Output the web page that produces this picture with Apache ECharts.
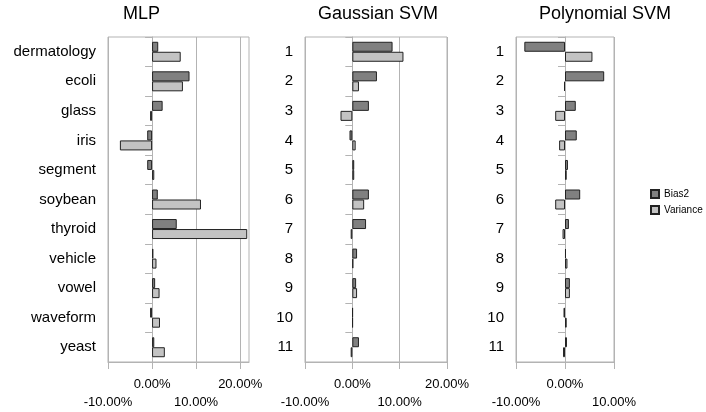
<!DOCTYPE html>
<html>
<head>
<meta charset="utf-8">
<script src="https://cdn.jsdelivr.net/npm/echarts@6/dist/echarts.min.js"></script>
<style>html,body{margin:0;padding:0;background:#fff}#c{width:706px;height:412px}</style>
</head>
<body>
<div id="c"></div>
<script>
var titles = ['MLP', 'Gaussian SVM', 'Polynomial SVM'];
var mlpCategories = ['dermatology', 'ecoli', 'glass', 'iris', 'segment', 'soybean', 'thyroid', 'vehicle', 'vowel', 'waveform', 'yeast'];
var svmCategories = ['1', '2', '3', '4', '5', '6', '7', '8', '9', '10', '11'];
var seriesNames = ['Bias2', 'Variance'];

var mlpBias = [0.014, 0.085, 0.024, -0.011, -0.011, 0.013, 0.056, 0.003, 0.007, -0.0045, 0.005];
var mlpVar = [0.065, 0.070, -0.0045, -0.073, 0.005, 0.111, 0.216, 0.010, 0.017, 0.018, 0.029];
var gaussBias = [0.085, 0.052, 0.035, -0.006, 0.004, 0.035, 0.029, 0.010, 0.008, 0.001, 0.014];
var gaussVar = [0.108, 0.014, -0.025, 0.007, 0.004, 0.025, -0.0035, 0.002, 0.010, 0.001, -0.0035];
var polyBias = [-0.083, 0.080, 0.022, 0.024, 0.006, 0.031, 0.008, 0.002, 0.010, -0.003, 0.004];
var polyVar = [0.056, -0.002, -0.020, -0.012, 0.0035, -0.020, -0.005, 0.005, 0.010, 0.0035, -0.004];

var mlpTicks = [-0.1, 0, 0.1, 0.2];
var gaussTicks = [-0.1, 0, 0.1, 0.2];
var polyTicks = [-0.1, 0, 0.1];

var GRAY = '#b3b3b3';
var FONT = 'Liberation Sans, Arial, sans-serif';

function fmtPct(v) {
  var k = Math.round(v * 10);
  if (Math.abs(v * 100 - k * 10) > 0.01) return '';
  var t = (v * 100).toFixed(2) + '%';
  return (k % 2 !== 0) ? '\n' + t : t;
}

var grids = [
  {left: 108, top: 37, width: 141, height: 325},
  {left: 305, top: 37, width: 142, height: 325},
  {left: 516, top: 37, width: 98, height: 325}
];
var ranges = [[-0.1, 0.22], [-0.1, 0.2], [-0.1, 0.1]];
var tickSets = [mlpTicks, gaussTicks, polyTicks];
var cats = [mlpCategories, svmCategories, svmCategories];
var biasData = [mlpBias, gaussBias, polyBias];
var varData = [mlpVar, gaussVar, polyVar];
var titleLeft = [123, 318, 539];

var option = {
  animation: false,
  backgroundColor: '#fff',
  textStyle: {fontFamily: FONT},
  title: titles.map(function (t, i) {
    return {text: t, left: titleLeft[i], top: 5, padding: 0,
      textStyle: {fontFamily: FONT, fontSize: 18, fontWeight: 'normal', color: '#000'}};
  }),
  legend: {
    data: seriesNames,
    orient: 'vertical',
    left: 650, top: 189, padding: 0,
    itemWidth: 8, itemHeight: 8, itemGap: 6,
    icon: 'rect',
    textStyle: {fontFamily: FONT, fontSize: 10, color: '#000', lineHeight: 10}
  },
  grid: grids.map(function (g) {
    return {left: g.left, top: g.top, width: g.width, height: g.height,
      show: true, borderColor: GRAY, borderWidth: 1, containLabel: false};
  }),
  xAxis: grids.map(function (g, i) {
    return {
      type: 'value', gridIndex: i, min: ranges[i][0], max: ranges[i][1], interval: 0.1,
      axisLine: {show: true, onZero: false, lineStyle: {color: GRAY}},
      axisTick: {show: true, length: 7, lineStyle: {color: GRAY}, customValues: tickSets[i]},
      splitLine: {show: true, lineStyle: {color: GRAY}},
      axisLabel: {formatter: fmtPct, customValues: tickSets[i], showMinLabel: true, showMaxLabel: true,
        margin: 13, fontSize: 13, lineHeight: 18, color: '#000', fontFamily: FONT}
    };
  }),
  yAxis: grids.map(function (g, i) {
    return {
      type: 'category', gridIndex: i, data: cats[i], inverse: true,
      axisLine: {show: true, lineStyle: {color: GRAY}},
      axisTick: {show: true, length: 7, alignWithLabel: false, lineStyle: {color: GRAY}},
      splitLine: {show: false},
      axisLabel: {margin: 12, fontSize: 15, color: '#000', fontFamily: FONT}
    };
  }),
  series: []
};

for (var i = 0; i < 3; i++) {
  option.series.push({
    name: seriesNames[0], type: 'bar', xAxisIndex: i, yAxisIndex: i,
    data: biasData[i], barWidth: 10, barGap: '0%',
    itemStyle: {color: '#808080', borderColor: '#222', borderWidth: 1}
  });
  option.series.push({
    name: seriesNames[1], type: 'bar', xAxisIndex: i, yAxisIndex: i,
    data: varData[i], barWidth: 10, barGap: '0%',
    itemStyle: {color: '#c3c3c3', borderColor: '#222', borderWidth: 1}
  });
}

var chart = echarts.init(document.getElementById('c'), null, {renderer: 'canvas'});
chart.setOption(option);
</script>
</body>
</html>
